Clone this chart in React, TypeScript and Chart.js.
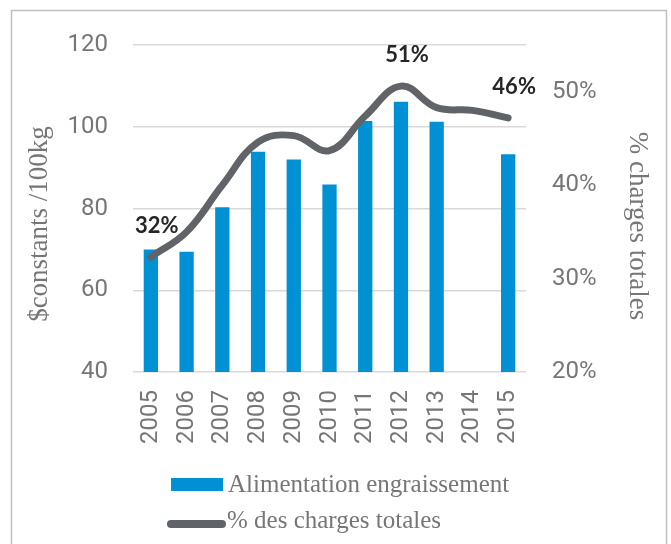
import React, { useEffect, useRef } from "react";
import { Chart, registerables } from "chart.js";

Chart.register(...registerables);

const years = ["2005", "2006", "2007", "2008", "2009", "2010", "2011", "2012", "2013", "2014", "2015"];
const feedCost = [70.0, 69.4, 80.3, 93.9, 92.0, 85.9, 101.4, 106.1, 101.2, null, 93.3];
const shareOfTotal = [32.3, 35.0, 40.0, 44.6, 45.3, 43.7, 47.4, 50.6, 48.3, 48.0, 47.2];
const seriesNames = ["Alimentation engraissement", "% des charges totales"];
const pointLabelIndex = [0, 7, 10];
const pointLabelText = ["32%", "51%", "46%"];
const leftTitle = "$constants /100kg";
const rightTitle = "% charges totales";
const leftMin = 40, leftMax = 120, leftStep = 20;
const rightMin = 20, rightMax = 55, rightStep = 10, rightLastTick = 50;

const BLUE = "#0091d5";
const GREY_LINE = "#606468";
const TEXT = "#767676";
const GRID = "#d9d9d9";

const decorPlugin = {
  id: "decor",
  beforeDraw(chart: any) {
    const ctx = chart.ctx;
    ctx.save();
    ctx.strokeStyle = "#bfbfbf";
    ctx.lineWidth = 1.5;
    ctx.strokeRect(11.5, 10.5, 655, 600);
    ctx.restore();
  },
  afterDatasetsDraw(chart: any) {
    const ctx = chart.ctx;
    const meta = chart.getDatasetMeta(1);
    ctx.save();
    ctx.font = "bold 22px Lato";
    ctx.fillStyle = "#262626";
    ctx.textAlign = "center";
    ctx.textBaseline = "middle";
    pointLabelIndex.forEach((idx, i) => {
      const pt = meta.data[idx];
      if (!pt) return;
      ctx.fillText(pointLabelText[i], pt.x + 6, pt.y - 31);
    });
    ctx.restore();
  },
  afterDraw(chart: any) {
    const ctx = chart.ctx;
    const ds = chart.data.datasets;
    ctx.save();
    // axis titles
    ctx.fillStyle = TEXT;
    ctx.font = "27px 'Liberation Serif'";
    ctx.textAlign = "center";
    ctx.textBaseline = "middle";
    ctx.save();
    ctx.translate(39.5, 224);
    ctx.rotate(-Math.PI / 2);
    ctx.fillText(leftTitle, 0, 0);
    ctx.restore();
    ctx.save();
    ctx.translate(637, 226);
    ctx.rotate(Math.PI / 2);
    ctx.fillText(rightTitle, 0, 0);
    ctx.restore();

    // legend
    ctx.font = "25px 'Liberation Serif'";
    ctx.textAlign = "left";
    ctx.textBaseline = "alphabetic";
    ctx.fillStyle = ds[0].backgroundColor;
    ctx.fillRect(171, 478, 52, 13);
    ctx.fillStyle = TEXT;
    ctx.fillText(ds[0].label, 228, 492);

    ctx.strokeStyle = ds[1].borderColor;
    ctx.lineWidth = 8;
    ctx.lineCap = "round";
    ctx.beginPath();
    ctx.moveTo(171, 524);
    ctx.lineTo(222, 524);
    ctx.stroke();
    ctx.fillStyle = TEXT;
    ctx.fillText(ds[1].label, 227, 528);
    ctx.restore();
  },
};

export default function App() {
  const ref = useRef<HTMLCanvasElement>(null);
  useEffect(() => {
    if (!ref.current) return;
    const tickFont = { family: "Roboto", size: 24 };
    const chart = new Chart(ref.current, {
      type: "bar",
      data: {
        labels: years,
        datasets: [
          {
            type: "bar",
            label: seriesNames[0],
            data: feedCost,
            backgroundColor: BLUE,
            borderWidth: 0,
            barPercentage: 0.4,
            categoryPercentage: 1,
            yAxisID: "y",
            order: 2,
          },
          {
            type: "line",
            label: seriesNames[1],
            data: shareOfTotal,
            borderColor: GREY_LINE,
            backgroundColor: GREY_LINE,
            borderWidth: 7,
            borderCapStyle: "round",
            borderJoinStyle: "round",
            pointRadius: 0,
            tension: 0.4,
            yAxisID: "y1",
            order: 1,
          },
        ] as any,
      },
      options: {
        responsive: false,
        animation: false,
        devicePixelRatio: 1,
        layout: { padding: { left: 0, right: 0, top: 45, bottom: 92 } },
        plugins: { legend: { display: false }, tooltip: { enabled: false }, title: { display: false } },
        scales: {
          x: {
            grid: { display: false, drawTicks: false },
            border: { display: false },
            ticks: {
              font: tickFont,
              color: TEXT,
              maxRotation: 90,
              minRotation: 90,
              autoSkip: false,
              padding: 18,
            },
            afterFit(scale: any) {
              scale.height = 80;
            },
          },
          y: {
            position: "left",
            min: leftMin,
            max: leftMax,
            grid: { color: GRID, lineWidth: 1.5, drawTicks: false },
            border: { display: false },
            ticks: { stepSize: leftStep, font: tickFont, color: TEXT, padding: 25 },
            afterFit(scale: any) {
              scale.width = 133;
            },
          },
          y1: {
            position: "right",
            min: rightMin,
            max: rightMax,
            bounds: "data",
            grid: { display: false, drawTicks: false },
            border: { display: false },
            ticks: {
              stepSize: rightStep,
              includeBounds: false,
              font: tickFont,
              color: TEXT,
              padding: 26,
              callback: (v: any) => `${v}%`,
            },
            afterBuildTicks(scale: any) {
              scale.ticks = scale.ticks.filter((t: any) => t.value <= rightLastTick + 1e-9);
            },
            afterFit(scale: any) {
              scale.width = 145;
            },
          },
        },
      } as any,
      plugins: [decorPlugin],
    });
    return () => chart.destroy();
  }, []);
  return (
    <div style={{ position: "fixed", left: 0, top: 0, width: 671, height: 544, background: "#fff" }}>
      <canvas ref={ref} width={671} height={544} style={{ width: 671, height: 544, display: "block" }} />
    </div>
  );
}
